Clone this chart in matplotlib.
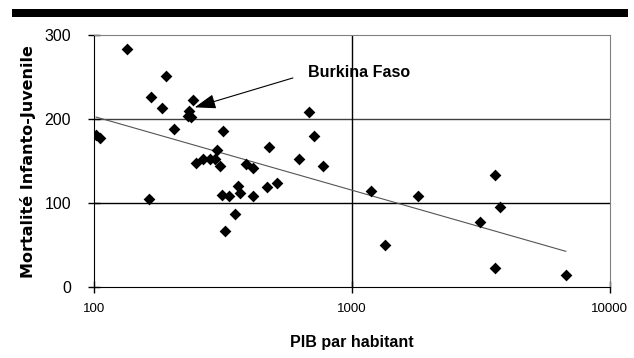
import numpy as np
import matplotlib
matplotlib.use("Agg")
import matplotlib.pyplot as plt
from matplotlib.patches import Rectangle

# GDP per capita (USD) and under-five mortality (per 1000)
pib = [135, 191, 166, 184, 242, 234, 232, 237, 205, 102, 106, 318, 300,
       248, 265, 281, 296, 307, 479, 389, 415, 622, 684, 714, 770, 164,
       314, 335, 362, 370, 413, 469, 513, 352, 323, 1188, 1347, 1799,
       3594, 3760, 3126, 3594, 6745]
mortalite = [283, 251, 226, 213, 223, 210, 204, 202, 188, 181, 177, 186, 163,
             148, 152, 152, 152, 144, 167, 146, 142, 153, 208, 180, 144, 105,
             110, 109, 120, 112, 109, 119, 124, 87, 67, 114, 50, 109,
             133, 95, 77, 23, 14]

y_ticks = [0, 100, 200, 300]
x_ticks = [100, 1000, 10000]
x_tick_labels = ["100", "1000", "10000"]

# Burkina Faso: point, arrow tail and label position
bf_point = (246, 214)
bf_tail = (591, 249)
bf_label = (675, 255)

plt.rcParams["font.family"] = ["Liberation Sans", "DejaVu Sans"]

fig = plt.figure(figsize=(6.34, 3.58), dpi=100)
ax = fig.add_axes([0.148, 0.198, 0.814, 0.704])

# heavy black band across the top
fig.patches.append(Rectangle((0.019, 0.952), 0.971, 0.024, transform=fig.transFigure,
                             facecolor="black", edgecolor="none"))

ax.set_xscale("log")
ax.set_xlim(100, 10000)
ax.set_ylim(0, 300)

ax.axhline(100, color="black", lw=1.0, zorder=1)
ax.axhline(200, color="#404040", lw=1.0, zorder=1)
ax.axvline(1000, color="black", lw=1.0, zorder=1)

ax.scatter(pib, mortalite, marker="D", s=36, color="black", zorder=3, linewidths=0)

# logarithmic trend line
coef = np.polyfit(np.log10(pib), mortalite, 1)
xs = np.sort(np.array(pib, dtype=float))
ax.plot(xs, np.polyval(coef, np.log10(xs)), color="#555555", lw=0.8, zorder=2)

ax.annotate("", xy=bf_point, xytext=bf_tail,
            arrowprops=dict(arrowstyle="-|>,head_length=1.3,head_width=0.45",
                            color="black", lw=0.8, shrinkA=0, shrinkB=0))
ax.text(*bf_label, "Burkina Faso", fontsize=11.5, fontweight="bold",
        va="center", ha="left")

ax.set_xticks(x_ticks)
ax.set_xticklabels(x_tick_labels)
ax.minorticks_off()
ax.set_yticks(y_ticks)
ax.tick_params(axis="both", direction="inout", length=9, width=1, color="black")
ax.tick_params(axis="y", labelsize=11.5, pad=12)
ax.tick_params(axis="x", labelsize=9.5, pad=7)

for side in ["top", "right"]:
    ax.spines[side].set_color("#808080")
for side in ["left", "bottom"]:
    ax.spines[side].set_color("black")

ax.set_xlabel("PIB par habitant", fontsize=11.5, fontweight="bold", labelpad=14)
ax.set_ylabel("Mortalité Infanto-Juvenile", fontsize=11.5, fontweight="bold",
              family="DejaVu Sans", labelpad=6)

fig.savefig("out.png", dpi=100)
